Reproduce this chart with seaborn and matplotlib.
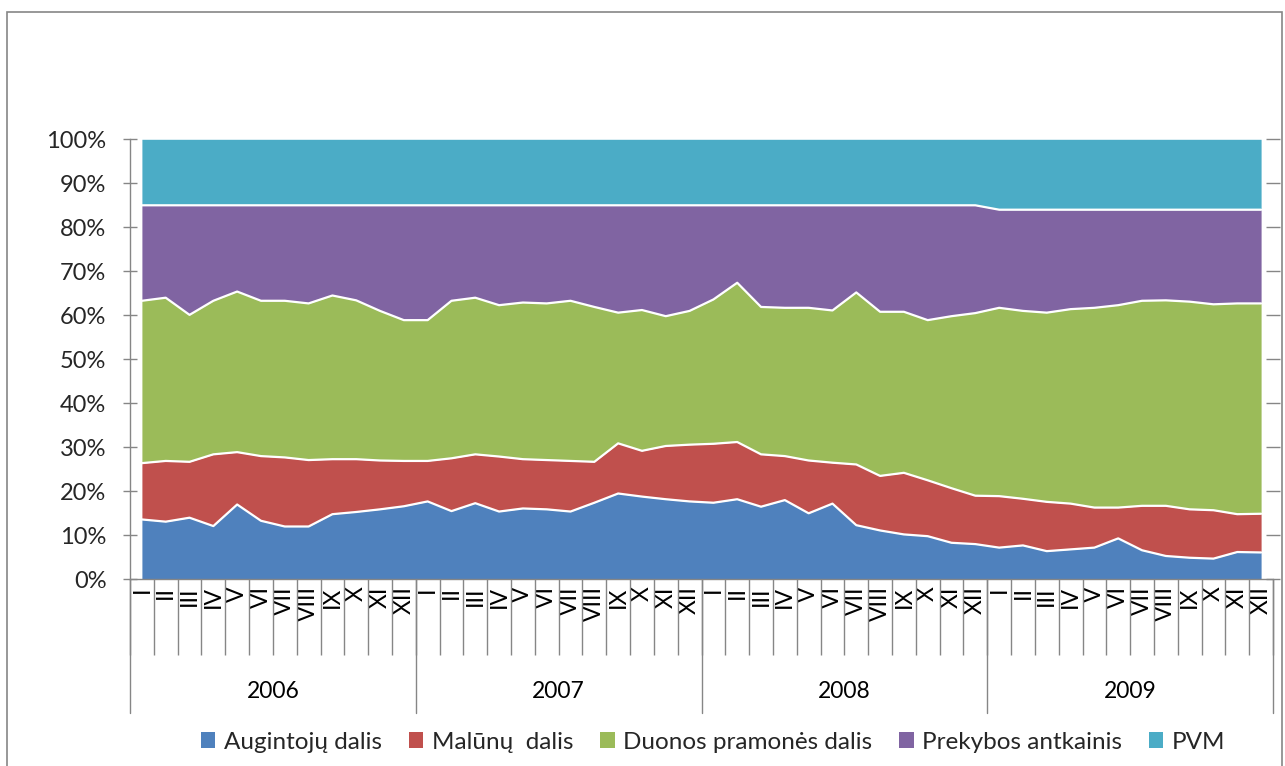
import numpy as np
import pandas as pd
import matplotlib.pyplot as plt
import seaborn as sns
from matplotlib.patches import Rectangle

# data (shares in %, monthly 2006-2009)
years = ["2006", "2007", "2008", "2009"]
months = ["I", "II", "III", "IV", "V", "VI", "VII", "VIII", "IX", "X", "XI", "XII"]

augintoju = [13.6, 13.1, 14.0, 12.1, 17.0, 13.3, 12.0, 12.0, 14.8, 15.3, 15.9, 16.6,
             17.7, 15.5, 17.3, 15.4, 16.1, 15.9, 15.4, 17.4, 19.5, 18.8, 18.2, 17.7,
             17.4, 18.2, 16.5, 18.0, 15.0, 17.2, 12.3, 11.1, 10.2, 9.8, 8.3, 8.0,
             7.2, 7.7, 6.4, 6.8, 7.2, 9.3, 6.6, 5.3, 4.9, 4.7, 6.2, 6.1]
maluny = [12.8, 13.8, 12.7, 16.3, 11.9, 14.7, 15.7, 15.1, 12.5, 12.0, 11.1, 10.3,
          9.2, 12.0, 11.1, 12.5, 11.2, 11.2, 11.5, 9.3, 11.4, 10.4, 12.1, 12.9,
          13.4, 13.0, 11.9, 10.0, 12.0, 9.3, 13.8, 12.4, 14.0, 12.7, 12.4, 11.0,
          11.7, 10.6, 11.2, 10.4, 9.1, 7.0, 10.1, 11.4, 11.0, 11.0, 8.6, 8.8]
duonos = [36.9, 37.1, 33.4, 34.9, 36.5, 35.3, 35.6, 35.6, 37.2, 36.1, 34.0, 32.0,
          32.0, 35.8, 35.6, 34.4, 35.6, 35.6, 36.4, 35.2, 29.7, 32.0, 29.5, 30.4,
          32.8, 36.2, 33.5, 33.7, 34.7, 34.6, 39.1, 37.3, 36.6, 36.4, 39.1, 41.5,
          42.8, 42.7, 43.0, 44.2, 45.4, 46.0, 46.6, 46.7, 47.2, 46.8, 47.9, 47.8]
prekybos = [21.7, 21.0, 24.9, 21.7, 19.6, 21.7, 21.7, 22.3, 20.5, 21.6, 24.0, 26.1,
            26.1, 21.7, 21.0, 22.7, 22.1, 22.3, 21.7, 23.1, 24.4, 23.8, 25.2, 24.0,
            21.4, 17.6, 23.1, 23.3, 23.3, 23.9, 19.8, 24.2, 24.2, 26.1, 25.2, 24.5,
            22.3, 23.0, 23.4, 22.6, 22.3, 21.7, 20.7, 20.6, 20.9, 21.5, 21.3, 21.3]
pvm = [15.0] * 36 + [16.0] * 12

names = ["Augintojų dalis", "Malūnų  dalis", "Duonos pramonės dalis",
         "Prekybos antkainis", "PVM"]
colors = ["#4F81BD", "#C0504D", "#9BBB59", "#8064A2", "#4BACC6"]

df = pd.DataFrame({names[0]: augintoju, names[1]: maluny, names[2]: duonos,
                   names[3]: prekybos, names[4]: pvm})
x = np.arange(len(df))
month_labels = months * len(years)

sns.set_theme(style="white")
plt.rcParams['font.family'] = ['Lato', 'DejaVu Sans']
axis_col = "#868686"

fig = plt.figure(figsize=(12.85, 7.66), dpi=100)
ax = fig.add_axes([130 / 1285, (766 - 579.3) / 766, 1143 / 1285, 440 / 766])

ax.stackplot(x, df[names].T.values, colors=colors, labels=names, linewidth=0)
cum = df[names].cumsum(axis=1)
for n in names[:-1]:
    sns.lineplot(x=x, y=cum[n].values, color="white", lw=1.6, ax=ax, legend=False)

ax.set_xlim(-0.5, len(x) - 0.5)
ax.set_ylim(0, 100)
ax.set_yticks(range(0, 101, 10))
ax.set_yticklabels([f"{v}%" for v in range(0, 101, 10)])
ax.set_xticks(x)
ax.set_xticklabels(month_labels, rotation=90)
ax.set_xticks(np.arange(-0.5, len(x), 1), minor=True)

ax.tick_params(axis="x", which="major", length=0, pad=5, labelsize=16.5, colors="black")
ax.tick_params(axis="x", which="minor", length=55, width=1, color=axis_col, bottom=True)
ax.tick_params(axis="y", direction="inout", length=10, width=1, color=axis_col,
               labelsize=17, pad=12, left=True)
ax.tick_params(axis="y", which="major", right=True)
for sp in ["top", "right"]:
    ax.spines[sp].set_visible(False)
for sp in ["left", "bottom"]:
    ax.spines[sp].set_color(axis_col)
    ax.spines[sp].set_linewidth(1)

# year separators and labels
trans = ax.get_xaxis_transform()
for b in np.arange(-0.5, len(x), 12):
    ax.plot([b, b], [0, -0.303], transform=trans, color=axis_col, lw=1, clip_on=False)
for i, yr in enumerate(years):
    ax.text(i * 12 + 5.5, -0.255, yr, transform=trans, ha="center", va="center",
            fontsize=16.5, color="black")

handles, labels = ax.get_legend_handles_labels()
fig.legend(handles, labels, loc="center", bbox_to_anchor=(0.555, 0.031), ncol=5,
           frameon=False, fontsize=17.5, handlelength=0.6, handleheight=0.6,
           handletextpad=0.35, columnspacing=1.1)

# outer chart border
fig.patches.append(Rectangle((7 / 1285, -0.02), 1275 / 1285, (766 - 12) / 766 + 0.02,
                             transform=fig.transFigure, fill=False,
                             edgecolor=axis_col, lw=1.2))

fig.savefig("out.png", dpi=100)
